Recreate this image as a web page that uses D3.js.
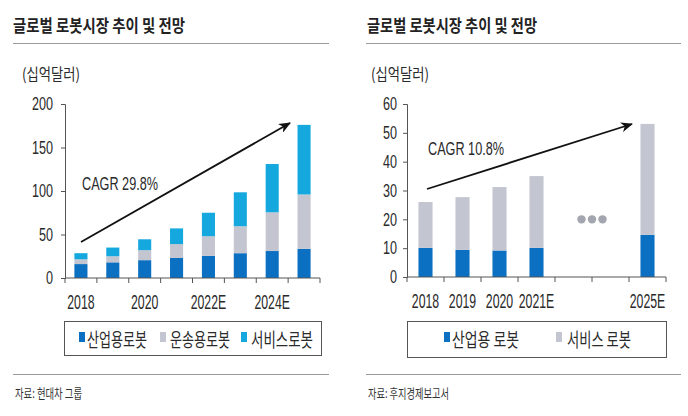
<!DOCTYPE html>
<html><head><meta charset="utf-8">
<script src="https://cdn.jsdelivr.net/npm/d3@7"></script>
<style>body{margin:0;background:#fff}svg{display:block}</style>
</head><body>
<svg id="c" width="688" height="416"></svg>
<script>
// ---- data ----
const leftCategories = ["2018","2019","2020","2021","2022E","2023E","2024E","2025E"];
const leftIndustrial = [16, 18, 20.5, 23, 25.5, 28.5, 31, 33.5];
const leftTransport  = [5.5, 7, 11.5, 16, 22.5, 31, 44.5, 62.5];
const leftService    = [7, 10, 12.5, 18, 27, 39, 55.5, 80];
const leftTickLabels = ["2018","2020","2022E","2024E"];
const leftYTicks = [0, 50, 100, 150, 200];
const leftSeriesNames = ["산업용로봇","운송용로봇","서비스로봇"];

const rightCategories = ["2018","2019","2020","2021E","gap1","gap2","2025E"];
const rightIndustrial = [10.1, 9.4, 9.2, 10.1, null, null, 14.6];
const rightService    = [15.9, 18.3, 22, 24.9, null, null, 38.5];
const rightTickLabels = ["2018","2019","2020","2021E","2025E"];
const rightYTicks = [0, 10, 20, 30, 40, 50, 60];
const rightSeriesNames = ["산업용 로봇","서비스 로봇"];

const titleText = "글로벌 로봇시장 추이 및 전망";
const unitText = "(십억달러)";
const leftCagr = "CAGR 29.8%";
const rightCagr = "CAGR 10.8%";
const leftSource = "자료: 현대차 그룹";
const rightSource = "자료: 후지경제보고서";

// ---- style ----
const C_IND = "#0b6fc2", C_TRN = "#c3c5d0", C_SVC = "#14a8df";
const KR = "'Noto Sans CJK KR', sans-serif";
const NUM = "'Liberation Sans', Arial, sans-serif";
const TXT = "#2a2a2a";

const svg = d3.select("#c");
svg.append("defs").append("marker")
  .attr("id","arr").attr("viewBox","0 0 12 10").attr("refX",11).attr("refY",5)
  .attr("markerWidth",12).attr("markerHeight",10).attr("markerUnits","userSpaceOnUse")
  .attr("orient","auto")
  .append("path").attr("d","M0,0 L12,5 L0,10 L3.5,5 Z").attr("fill","#111");

function txt(x, y, s, size, width, opts={}) {
  const t = svg.append("text").attr("x", x).attr("y", y).text(s)
    .attr("font-family", opts.family || KR).attr("font-size", size)
    .attr("font-weight", opts.weight || 400).attr("fill", opts.fill || TXT)
    .attr("text-anchor", opts.anchor || "start");
  if (opts.baseline) t.attr("dominant-baseline", opts.baseline);
  if (width) t.attr("textLength", width).attr("lengthAdjust","spacingAndGlyphs");
  return t;
}

function panel(cfg) {
  const g = svg.append("g");
  txt(cfg.titleX, 32, titleText, 17.5, cfg.titleW, {weight:700, fill:"#222"});
  svg.append("line").attr("x1", cfg.lineX1).attr("x2", cfg.lineX2).attr("y1",43.5).attr("y2",43.5)
    .attr("stroke","#9a9a9a").attr("stroke-width",1);
  svg.append("line").attr("x1", cfg.lineX1).attr("x2", cfg.lineX2).attr("y1",374.5).attr("y2",374.5)
    .attr("stroke","#9a9a9a").attr("stroke-width",1);
  txt(cfg.unitX, 80, unitText, 16, 58);
  txt(cfg.lineX1 + 2, 398, cfg.source, 13, cfg.sourceW, {fill:"#333"});

  const x = d3.scaleBand().domain(cfg.categories).range(cfg.xRange)
    .paddingInner(cfg.pad).paddingOuter(cfg.pad/2);
  const y = d3.scaleLinear().domain(cfg.yDomain).range(cfg.yRange);

  const rows = cfg.categories.map((c,i) => {
    const r = {cat:c};
    cfg.keys.forEach((k,j) => r[k] = cfg.series[j][i]);
    return r;
  }).filter(r => r[cfg.keys[0]] != null);
  const stacked = d3.stack().keys(cfg.keys)(rows);
  stacked.forEach((layer, j) => {
    g.append("g").attr("fill", cfg.colors[j]).selectAll("rect").data(layer).join("rect")
      .attr("x", d => x(d.data.cat)).attr("width", x.bandwidth())
      .attr("y", d => y(d[1])).attr("height", d => y(d[0]) - y(d[1]));
  });

  // y axis (labels condensed by horizontal scale about the tick origin)
  const ky = 0.7;
  const ya = g.append("g").attr("transform", `translate(${cfg.xRange[0]},0)`)
    .call(d3.axisLeft(y).tickValues(cfg.yTicks).tickSize(4).tickPadding(cfg.yPad));
  ya.selectAll("path,line").attr("stroke","#555");
  ya.selectAll("text").attr("font-family", NUM).attr("font-size", 18).attr("fill", TXT)
    .attr("x", -(4 + cfg.yPad) / ky).attr("transform", `scale(${ky},1)`);

  // x axis
  const kx = 0.6;
  const y0 = cfg.yRange[0];
  const xa = g.append("g").attr("transform", `translate(0,${y0})`)
    .call(d3.axisBottom(x).tickValues(cfg.tickLabels).tickSize(0).tickPadding(16));
  xa.select("path").attr("stroke","#555").attr("d", `M${cfg.xRange[0]},0H${cfg.xRange[1]}`);
  xa.selectAll("text").attr("font-family", NUM).attr("font-size", 20.5).attr("fill", TXT)
    .attr("transform", `scale(${kx},1)`);
  const bounds = d3.range(cfg.categories.length + 1).map(i => cfg.xRange[0] + i * x.step());
  xa.selectAll("line.bt").data(bounds).join("line").attr("class","bt")
    .attr("x1", d => d).attr("x2", d => d).attr("y1", 0).attr("y2", 5).attr("stroke","#555");

  // arrow + CAGR
  g.append("line").attr("x1", cfg.arrow[0]).attr("y1", cfg.arrow[1])
    .attr("x2", cfg.arrow[2]).attr("y2", cfg.arrow[3])
    .attr("stroke","#111").attr("stroke-width",1.8).attr("marker-end","url(#arr)");
  txt(cfg.cagrPos[0], cfg.cagrPos[1], cfg.cagr, 18, 76, {family: NUM});

  // legend
  g.append("rect").attr("x", cfg.legBox[0] + 0.5).attr("y", cfg.legBox[1] + 0.5)
    .attr("width", cfg.legBox[2]).attr("height", cfg.legBox[3])
    .attr("fill","none").attr("stroke","#555").attr("stroke-width",1);
  cfg.legItems.forEach((it, j) => {
    g.append("rect").attr("x", it[0]).attr("y", 332).attr("width", 6).attr("height", 10)
      .attr("fill", cfg.colors[j]);
    txt(it[1], 338, cfg.names[j], 19, it[2], {baseline:"central"});
  });
  return {x, y, g};
}

panel({
  titleX: 13, titleW: 172, lineX1: 13, lineX2: 329, unitX: 22,
  source: leftSource, sourceW: 67,
  categories: leftCategories, keys: ["ind","trn","svc"],
  series: [leftIndustrial, leftTransport, leftService],
  colors: [C_IND, C_TRN, C_SVC], names: leftSeriesNames,
  xRange: [65, 320], pad: 0.59, yDomain: [0, 200], yRange: [278, 104],
  yTicks: leftYTicks, yPad: 8, tickLabels: leftTickLabels,
  arrow: [81, 242, 290, 123], cagr: leftCagr, cagrPos: [82, 190],
  legBox: [64, 321, 257, 34],
  legItems: [[79, 87, 60], [160, 170, 60], [241, 251, 62]]
});

const R = panel({
  titleX: 367, titleW: 170, lineX1: 366, lineX2: 681, unitX: 371,
  source: rightSource, sourceW: 81,
  categories: rightCategories, keys: ["ind","svc"],
  series: [rightIndustrial, rightService],
  colors: [C_IND, C_TRN], names: rightSeriesNames,
  xRange: [407, 666], pad: 0.62, yDomain: [0, 60], yRange: [277, 104],
  yTicks: rightYTicks, yPad: 6, tickLabels: rightTickLabels,
  arrow: [427, 189, 632, 124], cagr: rightCagr, cagrPos: [428, 155],
  legBox: [407, 321, 259, 36],
  legItems: [[444, 452, 67], [556, 567, 64]]
});

const gapCenter = (R.x("gap1") + R.x("gap2") + R.x.bandwidth()) / 2;
R.g.selectAll("circle.dot").data([-1, 0, 1]).join("circle").attr("class","dot")
  .attr("cx", d => gapCenter + d * 10.5).attr("cy", R.y(20)).attr("r", 4.2).attr("fill","#a3a6ae");
</script>
</body></html>
